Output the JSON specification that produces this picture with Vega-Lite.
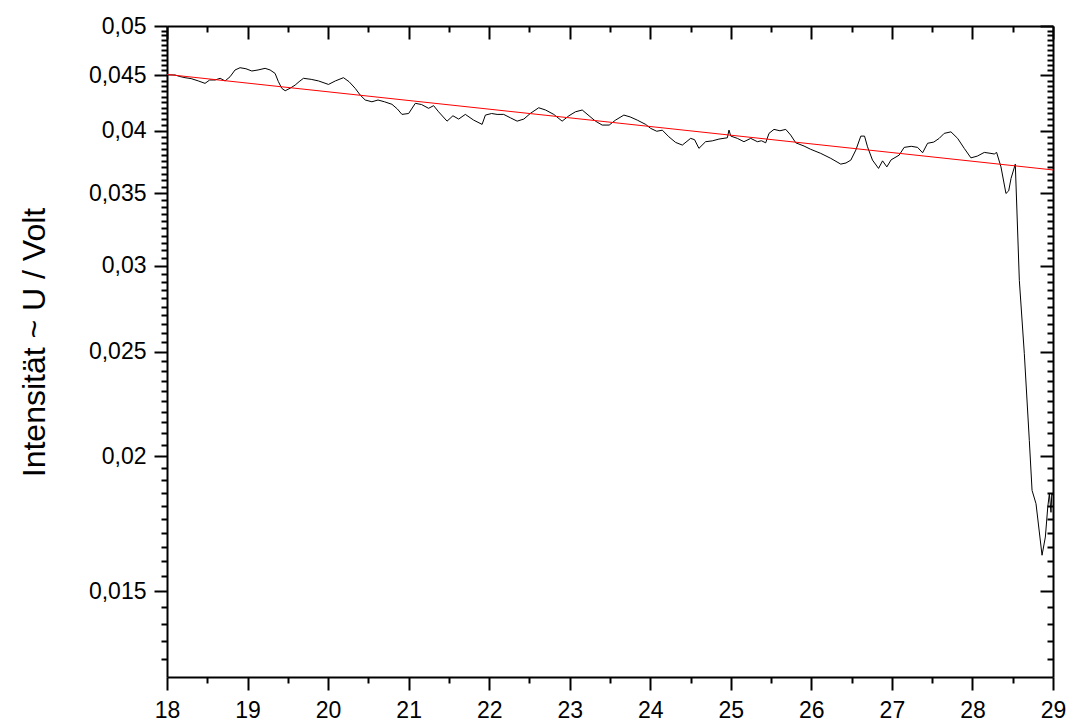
{
  "$schema": "https://vega.github.io/schema/vega-lite/v6.json",
  "width": 886,
  "height": 651,
  "autosize": {"type": "none"},
  "padding": {"left": 167, "top": 26, "right": 20, "bottom": 45},
  "background": "white",
  "config": {"view": {"stroke": null}, "font": "Liberation Sans"},
  "datasets": {
    "curve": [
      {"x": 18.0, "v": 0.04505}, {"x": 18.099, "v": 0.04505}, {"x": 18.16, "v": 0.0449}, {"x": 18.224, "v": 0.04479},
      {"x": 18.3, "v": 0.0447}, {"x": 18.389, "v": 0.04448}, {"x": 18.472, "v": 0.04425}, {"x": 18.53, "v": 0.04457},
      {"x": 18.597, "v": 0.04457}, {"x": 18.66, "v": 0.04473}, {"x": 18.721, "v": 0.04448}, {"x": 18.783, "v": 0.04488},
      {"x": 18.845, "v": 0.04553}, {"x": 18.907, "v": 0.04575}, {"x": 18.98, "v": 0.04565}, {"x": 19.053, "v": 0.04543},
      {"x": 19.13, "v": 0.04553}, {"x": 19.218, "v": 0.04569}, {"x": 19.28, "v": 0.04553}, {"x": 19.342, "v": 0.0452},
      {"x": 19.383, "v": 0.04441}, {"x": 19.426, "v": 0.04378}, {"x": 19.467, "v": 0.04356}, {"x": 19.53, "v": 0.0438},
      {"x": 19.591, "v": 0.04409}, {"x": 19.64, "v": 0.04441}, {"x": 19.694, "v": 0.04473}, {"x": 19.79, "v": 0.04463},
      {"x": 19.881, "v": 0.04448}, {"x": 20.005, "v": 0.04415}, {"x": 20.09, "v": 0.04448}, {"x": 20.191, "v": 0.04479},
      {"x": 20.26, "v": 0.04441}, {"x": 20.337, "v": 0.04378}, {"x": 20.399, "v": 0.04316}, {"x": 20.461, "v": 0.04271},
      {"x": 20.544, "v": 0.04255}, {"x": 20.62, "v": 0.04271}, {"x": 20.7, "v": 0.04255}, {"x": 20.793, "v": 0.04232},
      {"x": 20.86, "v": 0.0419}, {"x": 20.917, "v": 0.04142}, {"x": 21.0, "v": 0.0415}, {"x": 21.083, "v": 0.04241},
      {"x": 21.16, "v": 0.0423}, {"x": 21.248, "v": 0.04196}, {"x": 21.31, "v": 0.0422}, {"x": 21.372, "v": 0.04165},
      {"x": 21.477, "v": 0.04083}, {"x": 21.55, "v": 0.0413}, {"x": 21.621, "v": 0.04101}, {"x": 21.704, "v": 0.04142},
      {"x": 21.807, "v": 0.04092}, {"x": 21.912, "v": 0.04055}, {"x": 21.953, "v": 0.04136}, {"x": 22.03, "v": 0.0415},
      {"x": 22.098, "v": 0.04142}, {"x": 22.18, "v": 0.04142}, {"x": 22.264, "v": 0.04112}, {"x": 22.347, "v": 0.04083},
      {"x": 22.43, "v": 0.04101}, {"x": 22.512, "v": 0.04151}, {"x": 22.615, "v": 0.04201}, {"x": 22.7, "v": 0.04181},
      {"x": 22.802, "v": 0.04142}, {"x": 22.906, "v": 0.04083}, {"x": 22.99, "v": 0.0413}, {"x": 23.071, "v": 0.04165},
      {"x": 23.155, "v": 0.04181}, {"x": 23.24, "v": 0.0413}, {"x": 23.32, "v": 0.04083}, {"x": 23.403, "v": 0.04049},
      {"x": 23.49, "v": 0.04049}, {"x": 23.569, "v": 0.04092}, {"x": 23.672, "v": 0.04136}, {"x": 23.75, "v": 0.0412},
      {"x": 23.838, "v": 0.04092}, {"x": 23.942, "v": 0.04055}, {"x": 24.004, "v": 0.04021}, {"x": 24.08, "v": 0.03996},
      {"x": 24.15, "v": 0.04005}, {"x": 24.231, "v": 0.03949}, {"x": 24.315, "v": 0.03902}, {"x": 24.398, "v": 0.0388},
      {"x": 24.501, "v": 0.03936}, {"x": 24.55, "v": 0.03925}, {"x": 24.604, "v": 0.03853}, {"x": 24.687, "v": 0.03908},
      {"x": 24.77, "v": 0.03915}, {"x": 24.853, "v": 0.0393}, {"x": 24.957, "v": 0.03941}, {"x": 24.977, "v": 0.04006},
      {"x": 25.0, "v": 0.03955}, {"x": 25.081, "v": 0.03936}, {"x": 25.163, "v": 0.03908}, {"x": 25.247, "v": 0.03936},
      {"x": 25.33, "v": 0.03908}, {"x": 25.38, "v": 0.03916}, {"x": 25.433, "v": 0.03899}, {"x": 25.474, "v": 0.03978},
      {"x": 25.536, "v": 0.04012}, {"x": 25.61, "v": 0.04}, {"x": 25.682, "v": 0.04012}, {"x": 25.743, "v": 0.03964},
      {"x": 25.806, "v": 0.03899}, {"x": 25.909, "v": 0.03872}, {"x": 25.993, "v": 0.03845}, {"x": 26.117, "v": 0.03812},
      {"x": 26.241, "v": 0.03772}, {"x": 26.365, "v": 0.03726}, {"x": 26.43, "v": 0.03735}, {"x": 26.49, "v": 0.03758},
      {"x": 26.552, "v": 0.03839}, {"x": 26.614, "v": 0.03955}, {"x": 26.66, "v": 0.03955}, {"x": 26.697, "v": 0.03866},
      {"x": 26.759, "v": 0.03758}, {"x": 26.834, "v": 0.03692}, {"x": 26.884, "v": 0.03752}, {"x": 26.937, "v": 0.03704},
      {"x": 26.99, "v": 0.0376}, {"x": 27.09, "v": 0.03798}, {"x": 27.152, "v": 0.03861}, {"x": 27.24, "v": 0.0387},
      {"x": 27.319, "v": 0.03861}, {"x": 27.381, "v": 0.03817}, {"x": 27.443, "v": 0.03895}, {"x": 27.52, "v": 0.03905},
      {"x": 27.587, "v": 0.03936}, {"x": 27.649, "v": 0.03978}, {"x": 27.733, "v": 0.03991}, {"x": 27.816, "v": 0.03936},
      {"x": 27.898, "v": 0.03853}, {"x": 27.981, "v": 0.03776}, {"x": 28.06, "v": 0.0379}, {"x": 28.147, "v": 0.0382},
      {"x": 28.23, "v": 0.03812}, {"x": 28.271, "v": 0.03807}, {"x": 28.3, "v": 0.0382}, {"x": 28.354, "v": 0.03704},
      {"x": 28.416, "v": 0.035}, {"x": 28.45, "v": 0.0352}, {"x": 28.479, "v": 0.03614}, {"x": 28.532, "v": 0.03726},
      {"x": 28.582, "v": 0.02909}, {"x": 28.644, "v": 0.02489}, {"x": 28.706, "v": 0.02069}, {"x": 28.74, "v": 0.0186},
      {"x": 28.789, "v": 0.01808}, {"x": 28.864, "v": 0.0162}, {"x": 28.905, "v": 0.01684}, {"x": 28.935, "v": 0.01795},
      {"x": 28.955, "v": 0.01847}, {"x": 28.975, "v": 0.01775}, {"x": 28.985, "v": 0.01847}, {"x": 29.0, "v": 0.0184}
    ],
    "fit": [
      {"x": 18, "v": 0.0451},
      {"x": 29, "v": 0.0368}
    ]
  },
  "layer": [
    {
      "data": {"name": "curve"},
      "mark": {"type": "line", "color": "black", "strokeWidth": 1},
      "encoding": {
        "x": {
          "field": "x", "type": "quantitative",
          "scale": {"domain": [18, 29], "nice": false, "zero": false},
          "axis": {
            "orient": "bottom",
            "values": [18, 19, 20, 21, 22, 23, 24, 25, 26, 27, 28, 29],
            "labelExpr": "format(datum.value, 'd')",
            "tickSize": 13, "tickWidth": 2, "tickColor": "black",
            "domainColor": "black", "domainWidth": 2,
            "labelFont": "Liberation Sans", "labelFontSize": 23, "labelColor": "black",
            "labelPadding": 9, "labelFlush": false, "labelOverlap": false,
            "grid": false, "title": null
          }
        },
        "y": {
          "field": "v", "type": "quantitative",
          "scale": {"type": "log", "domain": [0.0125, 0.05], "nice": false},
          "axis": {
            "orient": "left",
            "values": [0.015, 0.02, 0.025, 0.03, 0.035, 0.04, 0.045, 0.05],
            "labelExpr": "replace(format(datum.value, '.3~f'), '.', ',')",
            "tickSize": 13, "tickWidth": 2, "tickColor": "black",
            "domainColor": "black", "domainWidth": 2,
            "labelFont": "Liberation Sans", "labelFontSize": 23, "labelColor": "black",
            "labelPadding": 8, "labelFlush": false, "labelOverlap": false,
            "grid": false,
            "title": "Intensität ~ U / Volt",
            "titleFont": "Liberation Sans", "titleFontSize": 32, "titleFontWeight": "normal", "titleColor": "black",
            "titleX": -133, "titleY": 316, "titleBaseline": "middle", "titleAlign": "center", "titleAngle": 270
          }
        }
      }
    },
    {
      "data": {"name": "fit"},
      "mark": {"type": "line", "color": "#ff0000", "strokeWidth": 1},
      "encoding": {
        "x": {
          "field": "x", "type": "quantitative",
          "scale": {"domain": [18, 29], "nice": false, "zero": false},
          "axis": {
            "orient": "top",
            "values": [18, 19, 20, 21, 22, 23, 24, 25, 26, 27, 28, 29],
            "labels": false,
            "tickSize": -13, "tickWidth": 2, "tickColor": "black",
            "domainColor": "black", "domainWidth": 2,
            "grid": false, "title": null
          }
        },
        "y": {
          "field": "v", "type": "quantitative",
          "scale": {"type": "log", "domain": [0.0125, 0.05], "nice": false},
          "axis": {
            "orient": "right",
            "values": [0.015, 0.02, 0.025, 0.03, 0.035, 0.04, 0.045, 0.05],
            "labels": false,
            "tickSize": -13, "tickWidth": 2, "tickColor": "black",
            "domainColor": "black", "domainWidth": 2,
            "grid": false, "title": null
          }
        }
      }
    },
    {
      "data": {"name": "fit"},
      "mark": {"type": "line", "color": "#ff0000", "strokeWidth": 1, "opacity": 0},
      "encoding": {
        "x": {
          "field": "x", "type": "quantitative",
          "scale": {"domain": [18, 29], "nice": false, "zero": false},
          "axis": {
            "orient": "bottom",
            "values": [18.5, 19.5, 20.5, 21.5, 22.5, 23.5, 24.5, 25.5, 26.5, 27.5, 28.5],
            "labels": false, "domain": false,
            "tickSize": 6, "tickWidth": 2, "tickColor": "black",
            "grid": false, "title": null
          }
        },
        "y": {
          "field": "v", "type": "quantitative",
          "scale": {"type": "log", "domain": [0.0125, 0.05], "nice": false},
          "axis": {
            "orient": "left",
            "values": [0.013,0.0135,0.014,0.0145,0.0155,0.016,0.0165,0.017,0.0175,0.018,0.0185,0.019,0.0195,0.0205,0.021,0.0215,0.022,0.0225,0.023,0.0235,0.024,0.0245,0.0255,0.026,0.0265,0.027,0.0275,0.028,0.0285,0.029,0.0295,0.0305,0.031,0.0315,0.032,0.0325,0.033,0.0335,0.034,0.0345,0.0355,0.036,0.0365,0.037,0.0375,0.038,0.0385,0.039,0.0395,0.0405,0.041,0.0415,0.042,0.0425,0.043,0.0435,0.044,0.0445,0.0455,0.046,0.0465,0.047,0.0475,0.048,0.0485,0.049,0.0495],
            "labels": false, "domain": false,
            "tickSize": 6, "tickWidth": 2, "tickColor": "black",
            "grid": false, "title": null
          }
        }
      }
    },
    {
      "data": {"name": "fit"},
      "mark": {"type": "line", "color": "#ff0000", "strokeWidth": 1, "opacity": 0},
      "encoding": {
        "x": {
          "field": "x", "type": "quantitative",
          "scale": {"domain": [18, 29], "nice": false, "zero": false},
          "axis": {
            "orient": "top",
            "values": [18.5, 19.5, 20.5, 21.5, 22.5, 23.5, 24.5, 25.5, 26.5, 27.5, 28.5],
            "labels": false, "domain": false,
            "tickSize": -6, "tickWidth": 2, "tickColor": "black",
            "grid": false, "title": null
          }
        },
        "y": {
          "field": "v", "type": "quantitative",
          "scale": {"type": "log", "domain": [0.0125, 0.05], "nice": false},
          "axis": {
            "orient": "right",
            "values": [0.013,0.0135,0.014,0.0145,0.0155,0.016,0.0165,0.017,0.0175,0.018,0.0185,0.019,0.0195,0.0205,0.021,0.0215,0.022,0.0225,0.023,0.0235,0.024,0.0245,0.0255,0.026,0.0265,0.027,0.0275,0.028,0.0285,0.029,0.0295,0.0305,0.031,0.0315,0.032,0.0325,0.033,0.0335,0.034,0.0345,0.0355,0.036,0.0365,0.037,0.0375,0.038,0.0385,0.039,0.0395,0.0405,0.041,0.0415,0.042,0.0425,0.043,0.0435,0.044,0.0445,0.0455,0.046,0.0465,0.047,0.0475,0.048,0.0485,0.049,0.0495],
            "labels": false, "domain": false,
            "tickSize": -6, "tickWidth": 2, "tickColor": "black",
            "grid": false, "title": null
          }
        }
      }
    }
  ],
  "resolve": {"axis": {"x": "independent", "y": "independent"}}
}
